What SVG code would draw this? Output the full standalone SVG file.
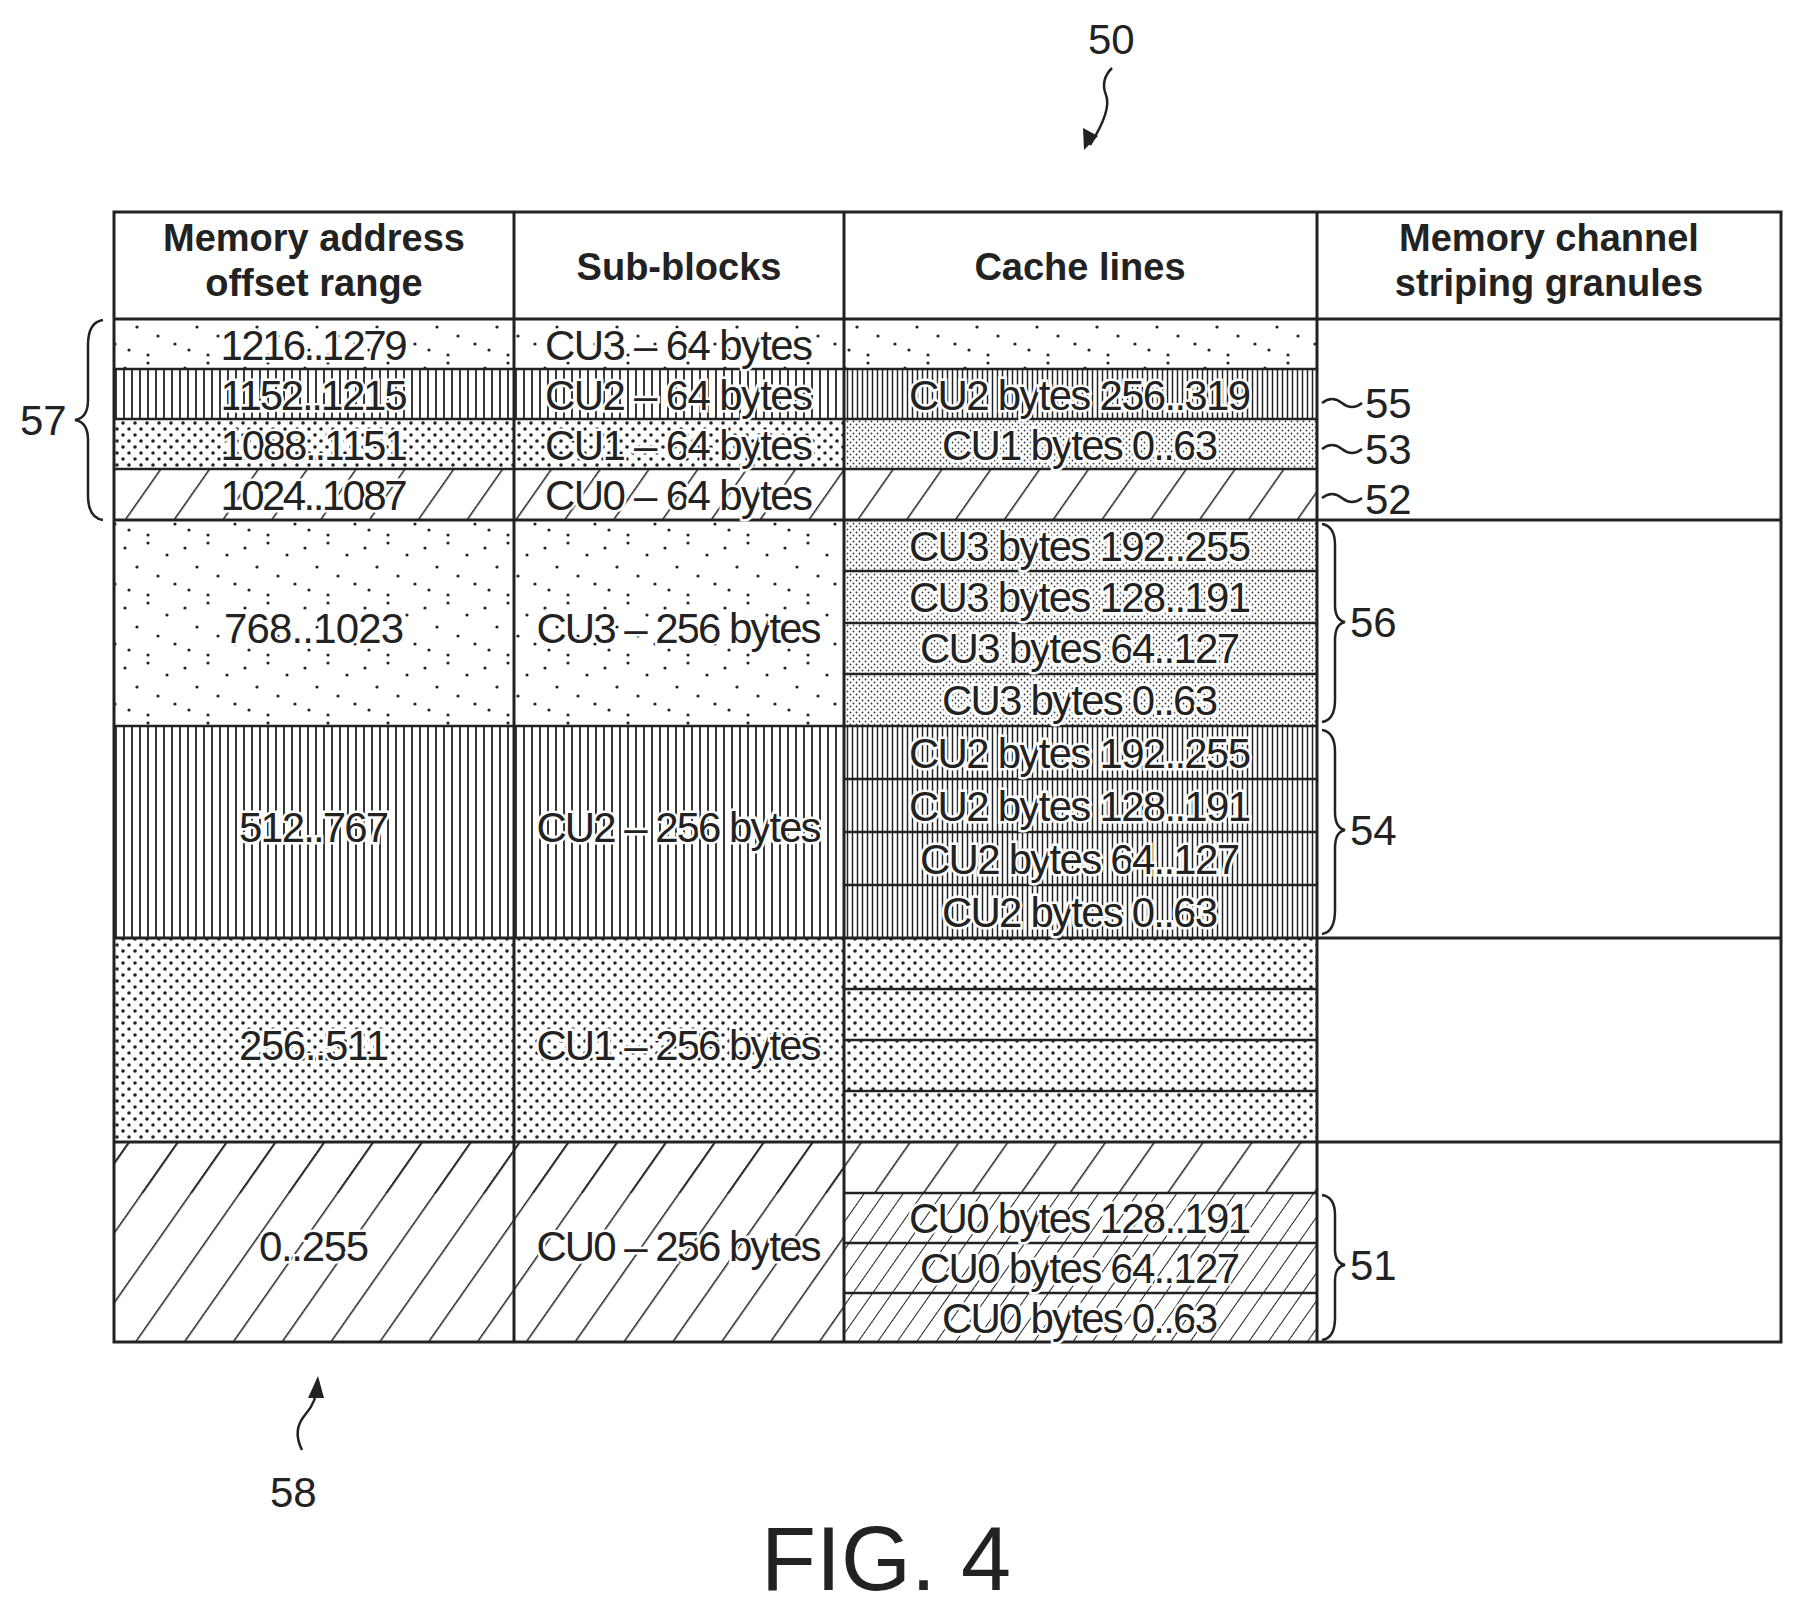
<svg xmlns="http://www.w3.org/2000/svg" width="1794" height="1611" viewBox="0 0 1794 1611">
<style>
.t{font-family:"Liberation Sans",Arial,sans-serif;font-size:42px;fill:#222;text-anchor:middle;paint-order:stroke;stroke:#fff;stroke-width:5px;lengthAdjust:spacingAndGlyphs}
.h{font-family:"Liberation Sans",Arial,sans-serif;font-size:38px;font-weight:bold;fill:#222;text-anchor:middle}
.n{font-family:"Liberation Sans",Arial,sans-serif;font-size:42px;fill:#222}
.b{fill:none;stroke:#222;stroke-width:3}
.l{fill:none;stroke:#222;stroke-width:2.5}
</style>
<defs>
<pattern id="sd" width="60" height="60" patternUnits="userSpaceOnUse"><g fill="#222"><circle cx="5" cy="8" r="1.6"/><circle cx="28" cy="3" r="1.6"/><circle cx="47" cy="15" r="1.6"/><circle cx="17" cy="27" r="1.6"/><circle cx="38" cy="36" r="1.6"/><circle cx="55" cy="44" r="1.6"/><circle cx="9" cy="50" r="1.6"/><circle cx="28" cy="55" r="1.6"/></g></pattern>
<pattern id="fd" width="6" height="6" patternUnits="userSpaceOnUse"><circle cx="1.5" cy="1.5" r="0.9" fill="#333"/><circle cx="4.5" cy="4.5" r="0.9" fill="#333"/></pattern>
<pattern id="dd" width="12" height="12" patternUnits="userSpaceOnUse"><circle cx="3" cy="3" r="1.8" fill="#222"/><circle cx="9" cy="9" r="1.8" fill="#222"/></pattern>
<pattern id="vl" width="8" height="8" patternUnits="userSpaceOnUse"><line x1="4" y1="0" x2="4" y2="8" stroke="#222" stroke-width="1.8"/></pattern>
<pattern id="vf" width="5" height="8" patternUnits="userSpaceOnUse"><line x1="2.5" y1="0" x2="2.5" y2="8" stroke="#222" stroke-width="1.5"/></pattern>
<pattern id="hc" width="40" height="40" patternUnits="userSpaceOnUse" patternTransform="rotate(35)"><line x1="0" y1="0" x2="0" y2="40" stroke="#222" stroke-width="3"/></pattern>
<pattern id="hf" width="16" height="16" patternUnits="userSpaceOnUse" patternTransform="rotate(35)"><line x1="0" y1="0" x2="0" y2="16" stroke="#222" stroke-width="2"/></pattern>
</defs>
<g id="fills">
<rect x="114" y="319" width="730" height="50" fill="url(#sd)"/>
<rect x="844" y="319" width="473" height="50" fill="url(#sd)"/>
<rect x="114" y="369" width="730" height="50" fill="url(#vl)"/>
<rect x="844" y="369" width="473" height="50" fill="url(#vf)"/>
<rect x="114" y="419" width="730" height="50" fill="url(#dd)"/>
<rect x="844" y="419" width="473" height="50" fill="url(#fd)"/>
<rect x="114" y="469" width="1203" height="51" fill="url(#hc)"/>
<rect x="114" y="520" width="730" height="206" fill="url(#sd)"/>
<rect x="844" y="520" width="473" height="206" fill="url(#fd)"/>
<rect x="114" y="726" width="730" height="212" fill="url(#vl)"/>
<rect x="844" y="726" width="473" height="212" fill="url(#vf)"/>
<rect x="114" y="938" width="1203" height="204" fill="url(#dd)"/>
<rect x="114" y="1142" width="1203" height="51" fill="url(#hc)"/>
<rect x="114" y="1142" width="730" height="200" fill="url(#hc)"/>
<rect x="844" y="1193" width="473" height="149" fill="url(#hf)"/>
</g>
<g id="grid">
<rect class="b" x="114" y="212" width="1667" height="1130"/>
<path class="b" d="M514 212V1342M844 212V1342M1317 212V1342M114 319H1781M114 520H1781M114 938H1781M114 1142H1781"/>
<path class="l" d="M114 369H1317M114 419H1317M114 469H1317M114 726H1317"/>
<path class="l" d="M844 571H1317M844 623H1317M844 674H1317M844 779H1317M844 832H1317M844 885H1317M844 989H1317M844 1040H1317M844 1091H1317M844 1193H1317M844 1243H1317M844 1293H1317"/>
</g>
<g id="headers">
<text class="h" x="314" y="251">Memory address</text><text class="h" x="314" y="296">offset range</text>
<text class="h" x="679" y="280">Sub-blocks</text>
<text class="h" x="1080" y="280">Cache lines</text>
<text class="h" x="1549" y="251">Memory channel</text><text class="h" x="1549" y="296">striping granules</text>
</g>
<g id="cells">
<text class="t" x="314" y="360" textLength="187">1216..1279</text>
<text class="t" x="679" y="360" textLength="268">CU3 – 64 bytes</text>
<text class="t" x="314" y="410" textLength="187">1152..1215</text>
<text class="t" x="679" y="410" textLength="268">CU2 – 64 bytes</text>
<text class="t" x="1080" y="410" textLength="342">CU2 bytes 256..319</text>
<text class="t" x="314" y="460" textLength="187">1088..1151</text>
<text class="t" x="679" y="460" textLength="268">CU1 – 64 bytes</text>
<text class="t" x="1080" y="460" textLength="276">CU1 bytes 0..63</text>
<text class="t" x="314" y="510" textLength="187">1024..1087</text>
<text class="t" x="679" y="510" textLength="268">CU0 – 64 bytes</text>
<text class="t" x="314" y="643" textLength="180">768..1023</text>
<text class="t" x="679" y="643" textLength="285">CU3 – 256 bytes</text>
<text class="t" x="1080" y="561" textLength="342">CU3 bytes 192..255</text>
<text class="t" x="1080" y="612" textLength="342">CU3 bytes 128..191</text>
<text class="t" x="1080" y="663" textLength="320">CU3 bytes 64..127</text>
<text class="t" x="1080" y="715" textLength="276">CU3 bytes 0..63</text>
<text class="t" x="314" y="842" textLength="150">512..767</text>
<text class="t" x="679" y="842" textLength="285">CU2 – 256 bytes</text>
<text class="t" x="1080" y="768" textLength="342">CU2 bytes 192..255</text>
<text class="t" x="1080" y="821" textLength="342">CU2 bytes 128..191</text>
<text class="t" x="1080" y="874" textLength="320">CU2 bytes 64..127</text>
<text class="t" x="1080" y="927" textLength="276">CU2 bytes 0..63</text>
<text class="t" x="314" y="1060" textLength="150">256..511</text>
<text class="t" x="679" y="1060" textLength="285">CU1 – 256 bytes</text>
<text class="t" x="314" y="1261" textLength="110">0..255</text>
<text class="t" x="679" y="1261" textLength="285">CU0 – 256 bytes</text>
<text class="t" x="1080" y="1233" textLength="342">CU0 bytes 128..191</text>
<text class="t" x="1080" y="1283" textLength="320">CU0 bytes 64..127</text>
<text class="t" x="1080" y="1333" textLength="276">CU0 bytes 0..63</text>
</g>
<g id="refs">
<path class="l" d="M103 320Q88 322 88 345V400Q88 418 75 420Q88 422 88 440V495Q88 518 103 520"/>
<text class="n" x="20" y="435">57</text>
<path class="l" d="M1322 403q10 -8 20 0t20 0"/><text class="n" x="1365" y="418">55</text>
<path class="l" d="M1322 449q10 -8 20 0t20 0"/><text class="n" x="1365" y="464">53</text>
<path class="l" d="M1322 498q10 -8 20 0t20 0"/><text class="n" x="1365" y="514">52</text>
<path class="l" d="M1322 524Q1335 526 1335 545V605Q1335 620 1345 622Q1335 624 1335 640V700Q1335 720 1322 722"/><text class="n" x="1350" y="637">56</text>
<path class="l" d="M1322 730Q1335 732 1335 752V812Q1335 828 1345 830Q1335 832 1335 848V910Q1335 932 1322 934"/><text class="n" x="1350" y="845">54</text>
<path class="l" d="M1322 1195Q1335 1197 1335 1215V1250Q1335 1263 1345 1265Q1335 1267 1335 1280V1318Q1335 1338 1322 1340"/><text class="n" x="1350" y="1280">51</text>
<text class="n" x="1088" y="54">50</text>
<path class="l" d="M1112 68Q1100 80 1106 95T1090 145"/><path d="M1084 150L1083 128L1098 136Z" fill="#222"/>
<text class="n" x="270" y="1507">58</text>
<path class="l" d="M302 1450Q292 1430 305 1415T316 1385"/><path d="M318 1376L308 1398L324 1398Z" fill="#222"/>
<text x="886" y="1590" text-anchor="middle" font-family="Liberation Sans,Arial,sans-serif" font-size="90" fill="#222">FIG. 4</text>
</g>
</svg>
